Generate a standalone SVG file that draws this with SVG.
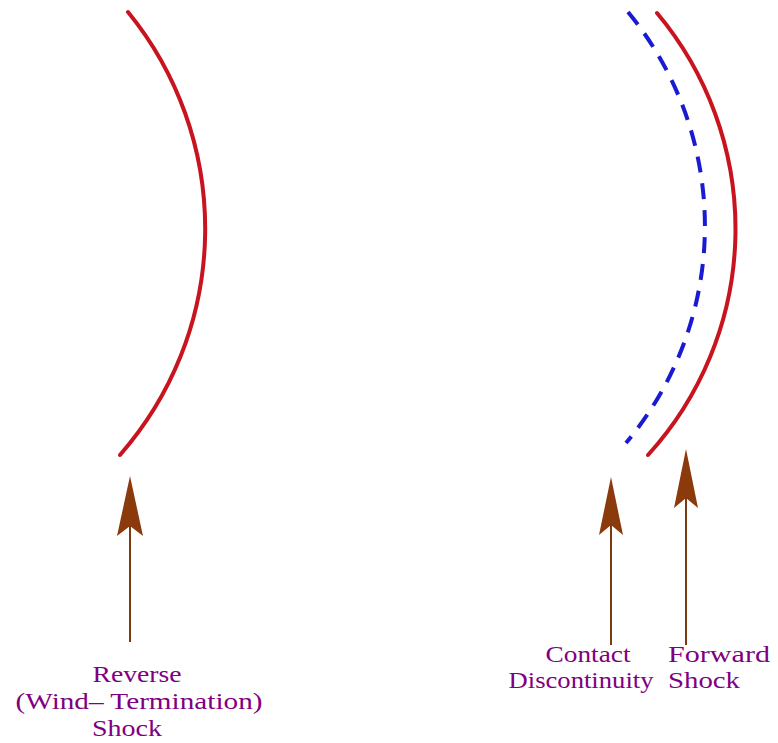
<svg xmlns="http://www.w3.org/2000/svg" width="778" height="743" viewBox="0 0 778 743">
<style>
.shock{fill:none;stroke:#c8141e;stroke-width:4;stroke-linecap:round}
.contact{fill:none;stroke:#1a1ad2;stroke-width:4;stroke-dasharray:16 11}
.shaft{stroke:#7a3a12;stroke-width:2}
.head{fill:#8b3a0c}
.lbl{font-family:"Liberation Serif","Times New Roman",serif;font-size:24px;fill:#800080;text-anchor:middle}
</style>
<rect width="778" height="743" fill="#ffffff"/>
<g id="reverse-shock-curve"><path class="shock" d="M128,12 A343,343 0 0,1 120,455"/></g>
<g id="contact-discontinuity-curve"><path class="contact" d="M628,12 A337,337 0 0,1 626,443"/></g>
<g id="forward-shock-curve"><path class="shock" d="M657,13 A336,336 0 0,1 648,455"/></g>
<g id="connectors">
<line class="shaft" x1="130" y1="520" x2="130" y2="642"/>
<polygon class="head" points="130,476 143,536 130,526 117,536"/>
<line class="shaft" x1="611" y1="520" x2="611" y2="645"/>
<polygon class="head" points="611,477 623,535 611,525 599,535"/>
<line class="shaft" x1="686" y1="495" x2="686" y2="645"/>
<polygon class="head" points="686,449 698,508 686,498 674,508"/>
</g>
<g id="label-reverse">
<text class="lbl" x="137" y="682" textLength="89" lengthAdjust="spacingAndGlyphs">Reverse</text>
<text class="lbl" x="139" y="709" textLength="247" lengthAdjust="spacingAndGlyphs">(Wind– Termination)</text>
<text class="lbl" x="127" y="736" textLength="70" lengthAdjust="spacingAndGlyphs">Shock</text>
</g>
<g id="label-contact">
<text class="lbl" x="588" y="662" textLength="85" lengthAdjust="spacingAndGlyphs">Contact</text>
<text class="lbl" x="581" y="688" textLength="145" lengthAdjust="spacingAndGlyphs">Discontinuity</text>
</g>
<g id="label-forward">
<text class="lbl" x="719" y="662" textLength="102" lengthAdjust="spacingAndGlyphs">Forward</text>
<text class="lbl" x="704" y="688" textLength="72" lengthAdjust="spacingAndGlyphs">Shock</text>
</g>
</svg>
